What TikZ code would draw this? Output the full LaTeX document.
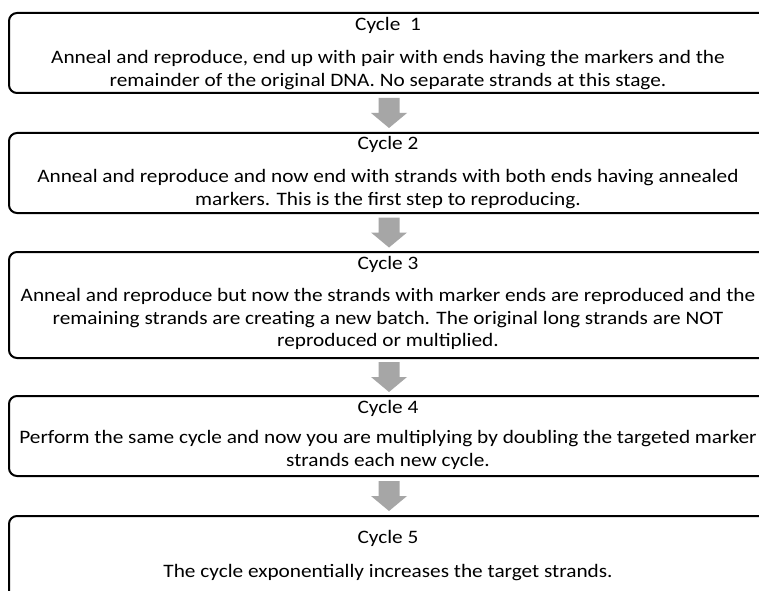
\documentclass[tikz,border=0pt]{standalone}
\usepackage{fontspec}
\setmainfont[FakeStretch=1.12]{Carlito}
\usetikzlibrary{calc}
\definecolor{arrowgray}{RGB}{166,166,166}
\begin{document}
\begin{tikzpicture}[x=1bp,y=-1bp,
  stagebox/.style={draw=black, line width=2bp, rounded corners=8bp,
    minimum width=760bp, inner sep=0pt, anchor=north west},
  stagetitle/.style={font=\fontsize{19bp}{23bp}\selectfont, inner sep=0pt, anchor=center},
  stagebody/.style={font=\fontsize{19bp}{22.5bp}\selectfont, inner sep=0pt,
    align=center, anchor=center},
  flowarrow/.style={fill=arrowgray, draw=none}
]
\useasboundingbox (0,0) rectangle (759,591);
\fill[white] (0,0) rectangle (759,591);
\clip (0,0) rectangle (759,591);

% stage frames (right side runs past the page edge)
\node[stagebox, minimum height=80bp]  (b1) at (8,12)  {};
\node[stagebox, minimum height=80bp]  (b2) at (8,132) {};
\node[stagebox, minimum height=106bp] (b3) at (8,251) {};
\node[stagebox, minimum height=80bp]  (b4) at (8,395) {};
\node[stagebox, minimum height=100bp] (b5) at (8,515) {};

% titles
\node[stagetitle] (t1) at (388,25.5)  {Cycle\ \ 1};
\node[stagetitle] (t2) at (388,144.5) {Cycle 2};
\node[stagetitle] (t3) at (388,264.5) {Cycle 3};
\node[stagetitle] (t4) at (388,408.5) {Cycle 4};
\node[stagetitle] (t5) at (388,538.5) {Cycle 5};

% descriptions
\node[stagebody] (d1) at (388,70) {Anneal and reproduce, end up with pair with ends having the markers and the\\remainder of the original DNA. No separate strands at this stage.};
\node[stagebody] (d2) at (388,189) {Anneal and reproduce and now end with strands with both ends having annealed\\markers. This is the first step to reproducing.};
\node[stagebody] (d3) at (388,319) {Anneal and reproduce but now the strands with marker ends are reproduced and the\\remaining strands are creating a new batch. The original long strands are NOT\\reproduced or multiplied.};
\node[stagebody] (d4) at (388,450) {Perform the same cycle and now you are multiplying by doubling the targeted marker\\strands each new cycle.};
\node[stagebody] (d5) at (388,572.5) {The cycle exponentially increases the target strands.};

% block arrows between stages
\foreach \a/\b in {b1/b2, b2/b3, b3/b4, b4/b5}{
  \fill[flowarrow] ($(\a.south)!0.5!(\b.north)$) ++(-10.5,-15) -- ++(21,0) -- ++(0,15)
    -- ++(7.5,0) -- ++(-18,15) -- ++(-18,-15) -- ++(7.5,0) -- cycle;
}
\end{tikzpicture}
\end{document}
